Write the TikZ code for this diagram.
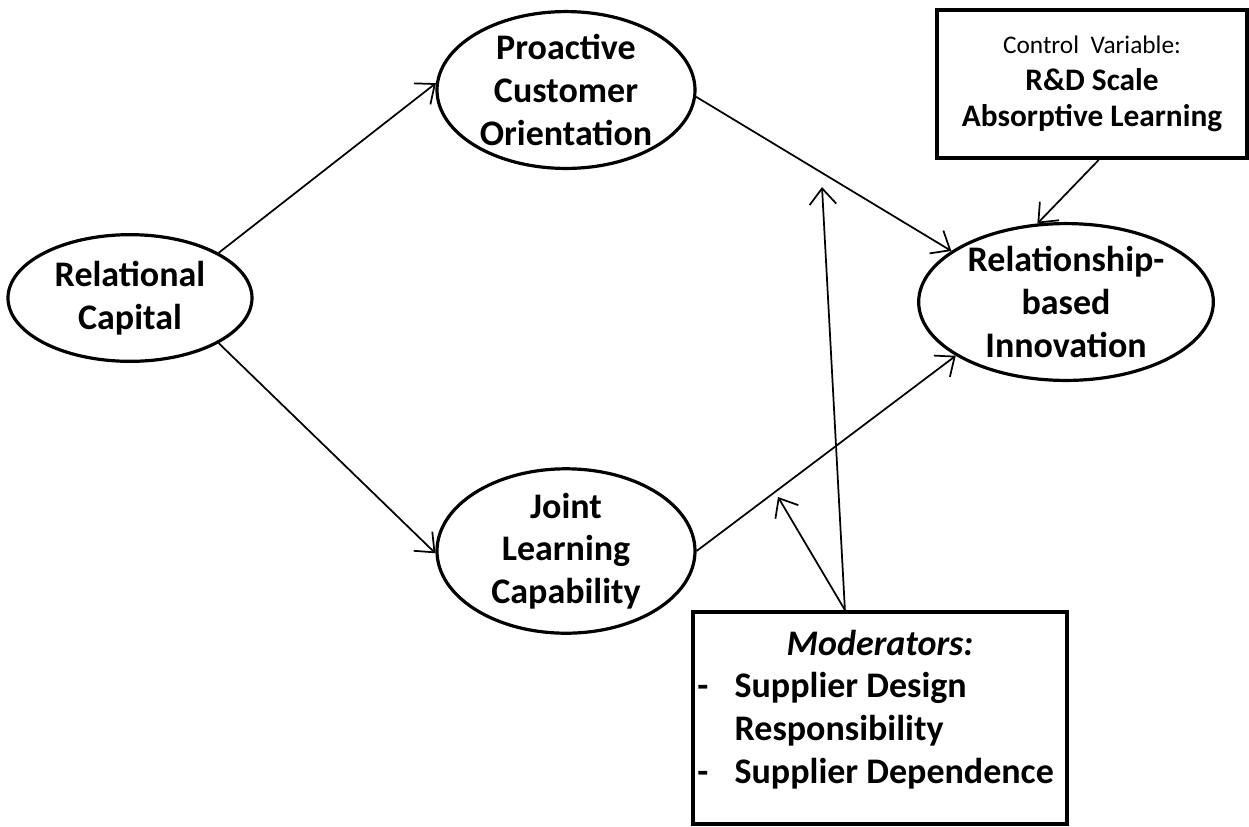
\documentclass[tikz,border=0pt]{standalone}
\usepackage{fontspec}
\setmainfont{Carlito}
\usetikzlibrary{positioning,arrows.meta,shapes.geometric}
\tikzset{
  node-var/.style={draw,ellipse,line width=2.4pt,inner sep=0pt,align=center,
    font=\bfseries\fontsize{27}{32}\selectfont},
  node-box/.style={draw,rectangle,line width=3pt,inner sep=3pt},
  arrow/.style={-{Straight Barb[length=12pt,width=20pt]},line width=1.3pt},
}

\begin{document}
\begin{tikzpicture}[x=0.75pt,y=-0.75pt]
  \useasboundingbox (0,0) rectangle (1249,826);
  % latent variables
  \node[node-var,minimum width=183pt,minimum height=95pt]    (rc)  at (130,298)
    {Relational\\Capital};
  \node[node-var,minimum width=193.5pt,minimum height=100pt] (pco) at (566,90)
    {Proactive\\Customer\\Orientation};
  \node[node-var,minimum width=193.5pt,minimum height=111pt] (jlc) at (566,551)
    {Joint\\Learning\\Capability};
  \node[node-var,minimum width=221pt,minimum height=102pt]   (rbi) at (1066,302)
    {Relationship-\\based\\Innovation};
  % boxes
  \node[node-box,minimum width=232pt,minimum height=111pt,align=center,
    font=\bfseries\fontsize{23.5}{27.5}\selectfont]          (ctl) at (1092,84)
    {{\mdseries\fontsize{19}{27.5}\selectfont Control\ \ Variable:}\\R\&D Scale\\Absorptive Learning};
  \node[node-box,minimum width=281pt,minimum height=159pt,text width=274pt,align=flush left,
    font=\bfseries\fontsize{27}{32}\selectfont]              (mod) at (880,718)
    {\hfill\textit{Moderators:}\hfill\null\\
     \makebox[28pt][l]{-}Supplier Design\\
     \hspace*{28pt}Responsibility\\
     \makebox[28pt][l]{-}Supplier Dependence\rule[-17pt]{0pt}{17pt}};
  \coordinate (m1) at (822,187);
  \coordinate (m2) at (778,497);
  % paths
  \draw[arrow] (rc.27)  -- (pco.177);
  \draw[arrow] (rc.-27) -- (jlc.181);
  \draw[arrow] (pco.-3) -- (rbi.156);
  \draw[arrow] (jlc.east) -- (rbi.206);
  \draw[arrow] (ctl.-85) -- (rbi.110);
  \draw[arrow] (mod.108) -- (m1);
  \draw[arrow] (mod.108) -- (m2);
\end{tikzpicture}
\end{document}
